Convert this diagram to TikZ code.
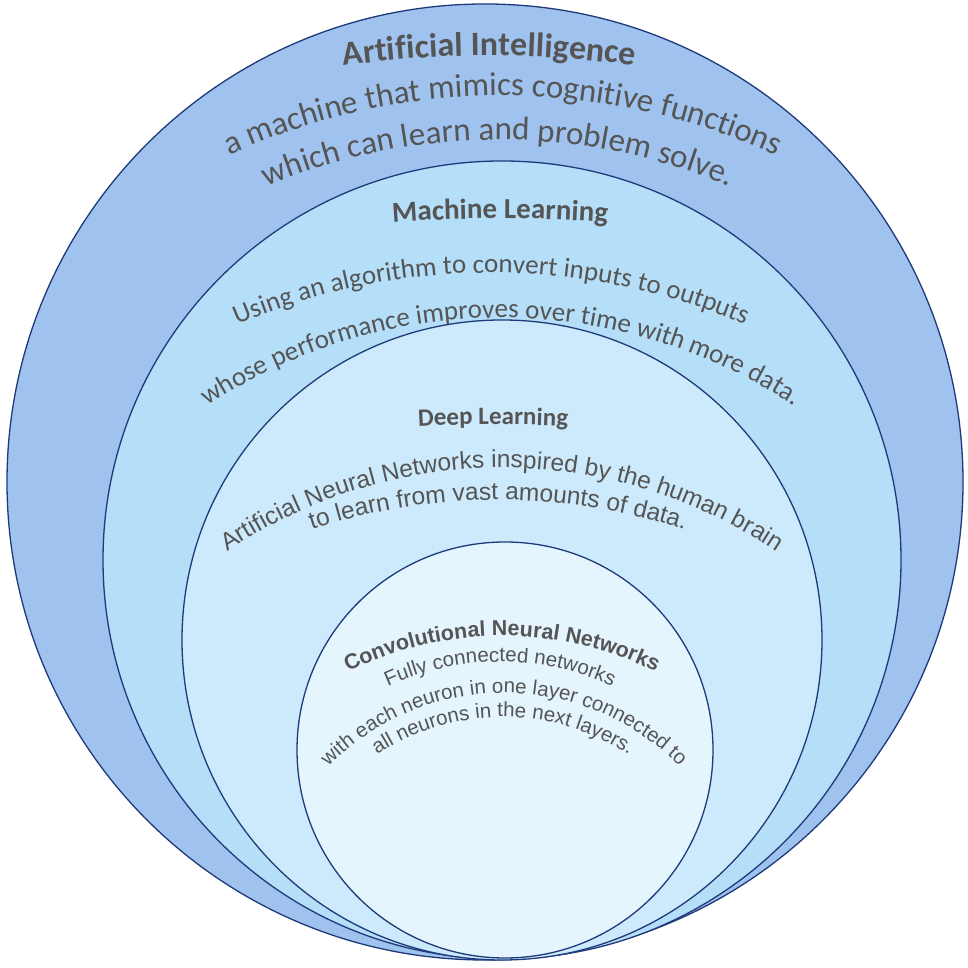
\documentclass[tikz,border=0pt]{standalone}
\usepackage{fontspec}
\usetikzlibrary{decorations.text,calc}
\newfontfamily\calf{Carlito}
\newfontfamily\arif{Liberation Sans}
\definecolor{txt}{HTML}{555555}
\definecolor{edge}{HTML}{1F3A7A}
\definecolor{cA}{HTML}{9FC3EE}
\definecolor{cB}{HTML}{B5DEF9}
\definecolor{cC}{HTML}{CCEAFB}
\definecolor{cD}{HTML}{E5F5FD}
\newcommand\arctxt[5]{%
  \path[decorate,decoration={text along path,text align=center,
    text={|#5\color{txt}|#4}}]
  ($(#1pt,968pt-#2pt)+(0,-#3pt)+(160:#3pt)$) arc[start angle=160,end angle=20,radius=#3pt];}
\tikzset{ring/.style={draw=edge,line width=1.3pt,circle,inner sep=0}}
\begin{document}
\begin{tikzpicture}
\useasboundingbox (0,0) rectangle (968pt,968pt);
\fill[white] (0,0) rectangle (968pt,968pt);
\node[ring,fill=cA,minimum size=956pt] (ai) at (485pt,486pt) {};
\node[ring,fill=cB,minimum size=798pt] (ml) at (502pt,408pt) {};
\node[ring,fill=cC,minimum size=640pt] (dl) at (502pt,328pt) {};
\node[ring,fill=cD,minimum size=416pt] (cnn) at (505pt,218pt) {};
\arctxt{489}{56}{1070}{Artificial Intelligence}{\calf\bfseries\fontsize{34}{34}\selectfont}
\arctxt{503}{96}{661}{a machine that mimics cognitive functions}{\calf\fontsize{33}{33}\selectfont}
\arctxt{498}{140}{602}{which can learn and problem solve.}{\calf\fontsize{33}{33}\selectfont}
\arctxt{500}{219}{1500}{Machine Learning}{\calf\bfseries\fontsize{29}{29}\selectfont}
\arctxt{491}{273}{649}{Using an algorithm to convert inputs to outputs}{\calf\fontsize{27}{27}\selectfont}
\arctxt{501}{318}{534}{whose performance improves over time with more data.}{\calf\fontsize{27}{27}\selectfont}
\arctxt{493}{425}{1500}{Deep Learning}{\calf\bfseries\fontsize{25}{25}\selectfont}
\arctxt{502}{468}{494}{Artificial Neural Networks inspired by the human brain}{\arif\fontsize{24.5}{24.5}\selectfont}
\arctxt{498}{500}{598}{to learn from vast amounts of data.}{\arif\fontsize{24.5}{24.5}\selectfont}
\arctxt{502}{636}{348}{Convolutional Neural Networks}{\arif\bfseries\fontsize{21.5}{21.5}\selectfont}
\arctxt{500}{662}{272}{Fully connected networks}{\arif\fontsize{20.5}{20.5}\selectfont}
\arctxt{504}{693}{246}{with each neuron in one layer connected to}{\arif\fontsize{20.5}{20.5}\selectfont}
\arctxt{503}{717}{227}{all neurons in the next layers.}{\arif\fontsize{20.5}{20.5}\selectfont}
\end{tikzpicture}
\end{document}
